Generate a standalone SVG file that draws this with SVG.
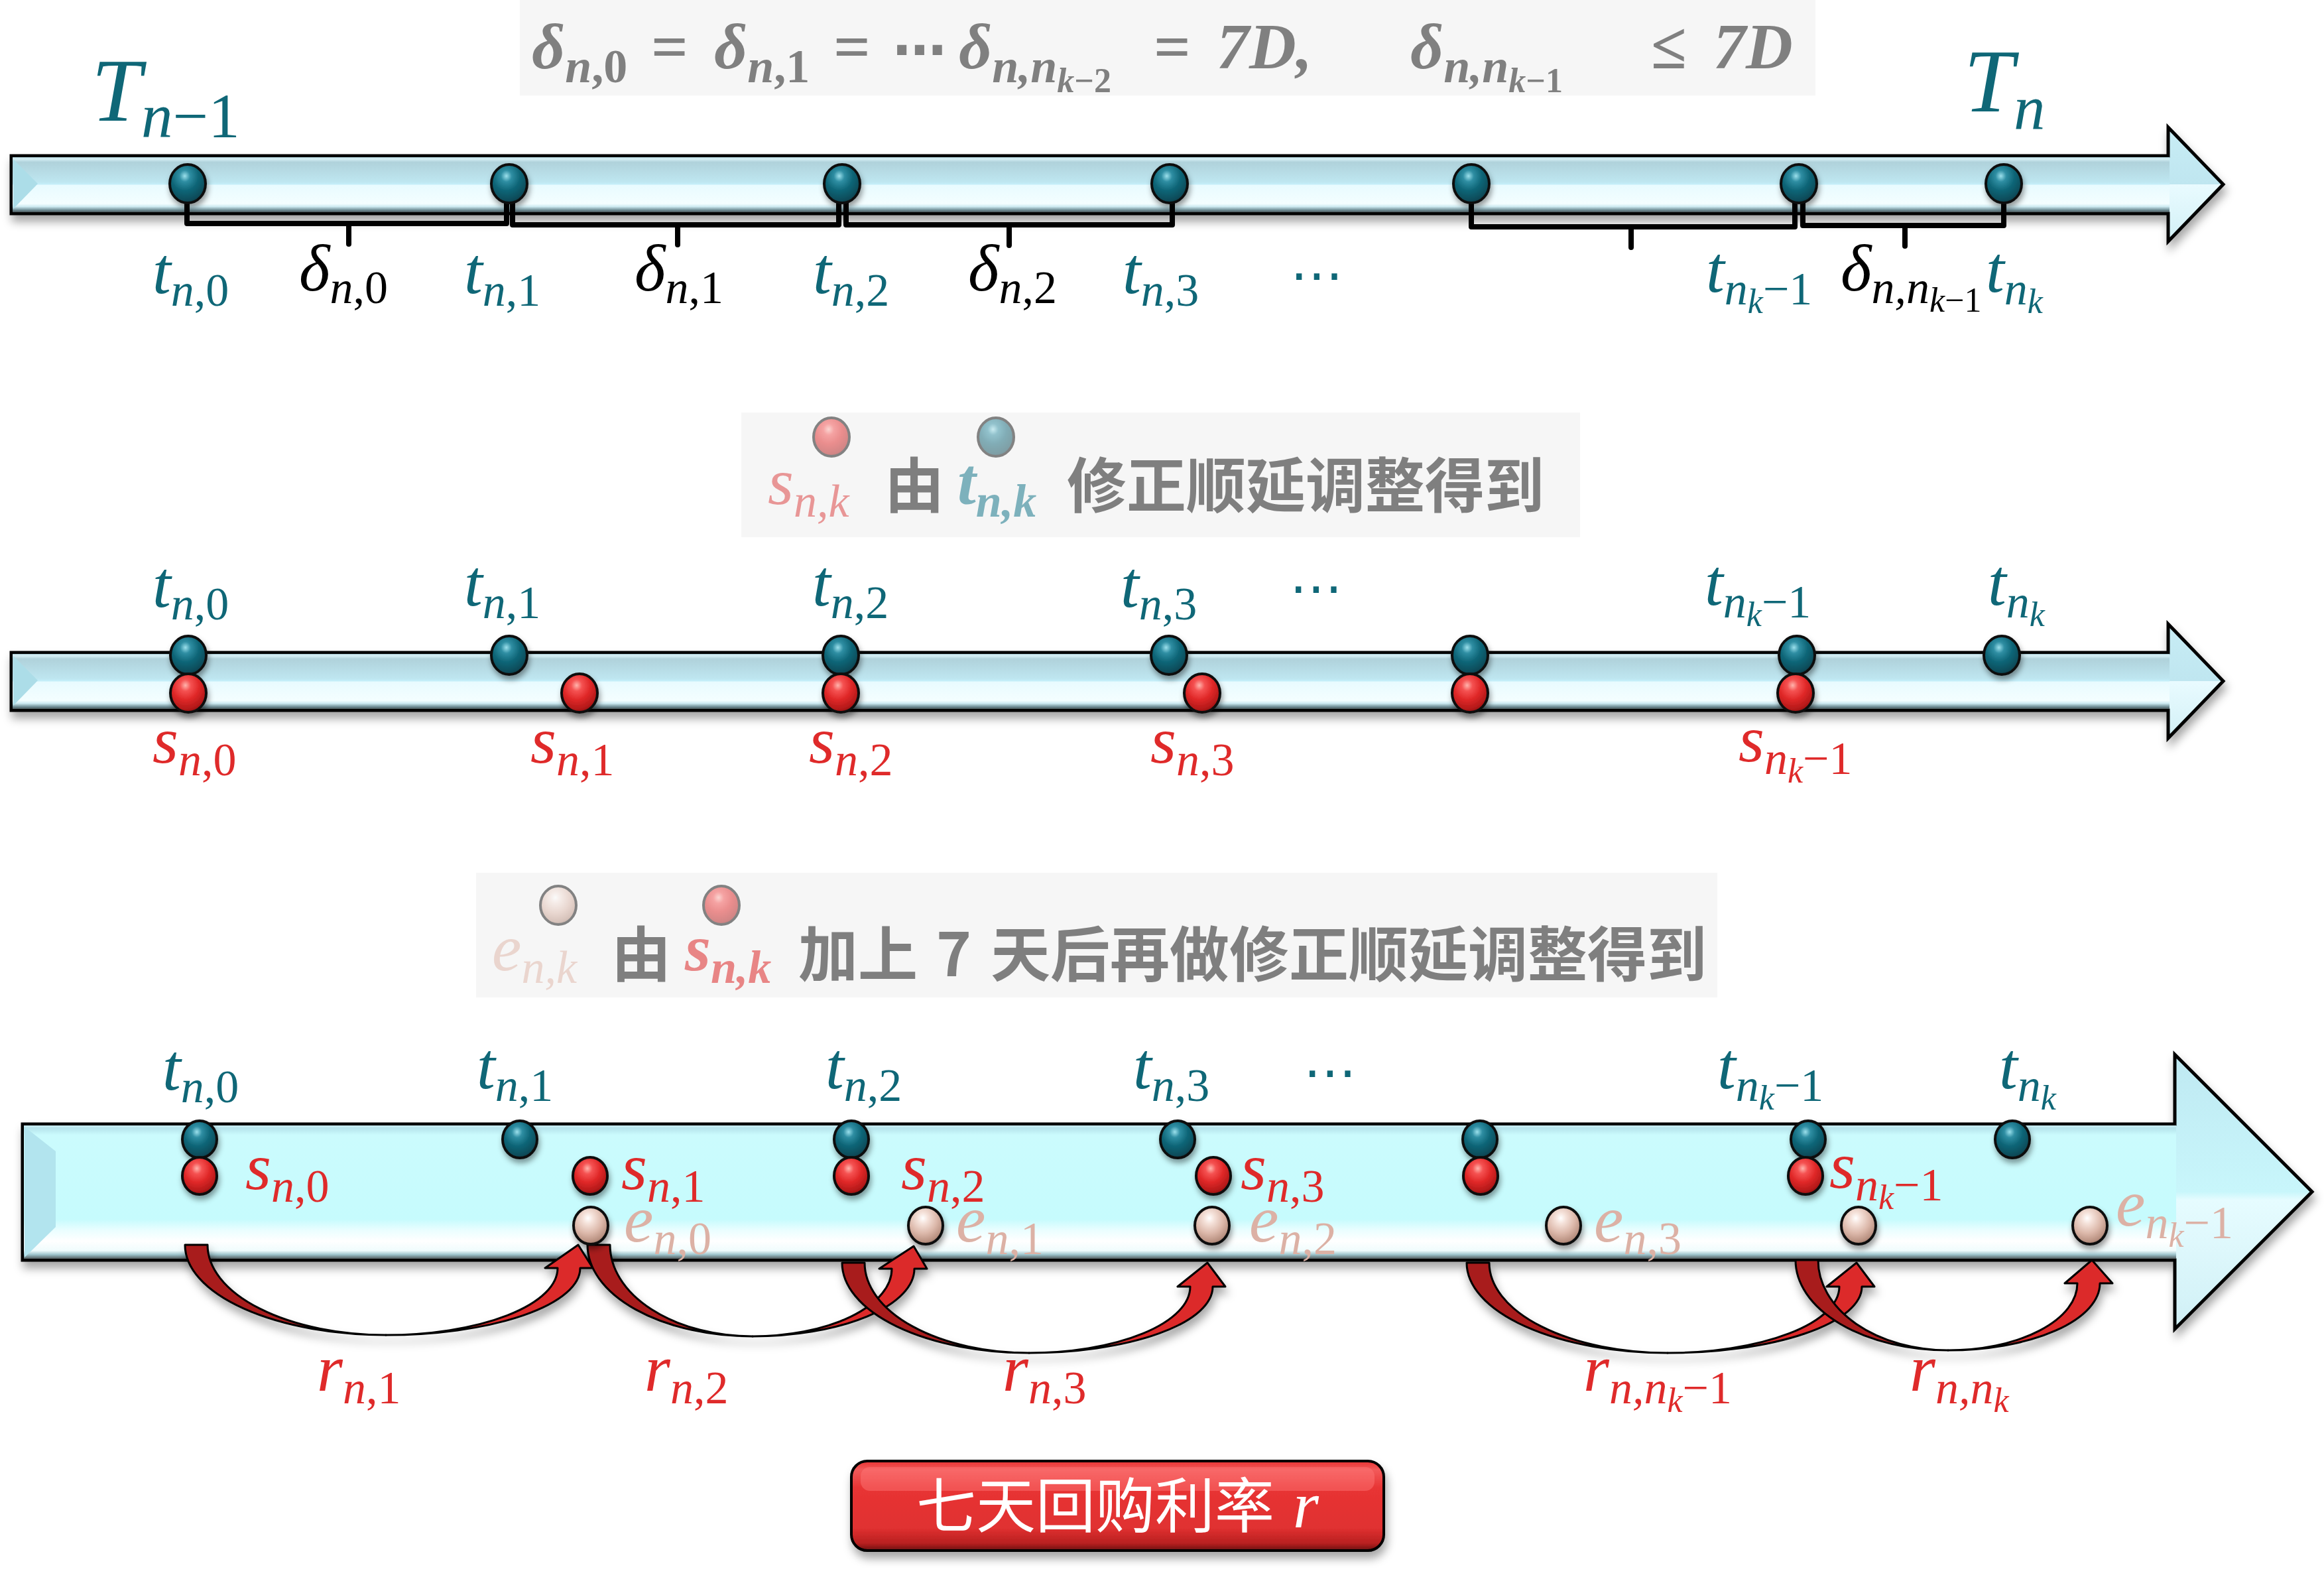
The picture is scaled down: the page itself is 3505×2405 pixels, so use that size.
<svg xmlns="http://www.w3.org/2000/svg" width="3505" height="2405" viewBox="0 0 3505 2405">
<defs>
<style>
.m{font-family:"Liberation Serif","DejaVu Serif",serif;font-style:italic}
.up{font-style:normal}
.L{font-size:100px}
.sb{font-size:70px}
.ss{font-size:52px}
.teal{fill:#0f6777}
.red{fill:#df2a2a}
.beige{fill:#dcb1a5}
.blk{fill:#000}
.gray{fill:#808080}
.cjk{font-family:"Noto Sans CJK SC",sans-serif;font-size:90px;fill:#7f7f7f;font-weight:bold}
.dots{font-family:"DejaVu Sans",sans-serif;font-size:80px;font-style:normal}
.bt{fill:url(#gT);stroke:#111;stroke-width:4}
.br{fill:url(#gR);stroke:#111;stroke-width:4}
.be{fill:url(#gE);stroke:#111;stroke-width:4}
.ad{fill:#a81f1f;stroke:#000;stroke-width:3;stroke-linejoin:round}
.al{fill:#dc2a2a;stroke:#000;stroke-width:3;stroke-linejoin:round}
.barO{stroke:#000;stroke-width:5;stroke-linejoin:miter}
</style>
<radialGradient id="gT" cx="0.42" cy="0.3" r="0.75">
<stop offset="0" stop-color="#9be0ec"/><stop offset="0.2" stop-color="#2f8ea3"/><stop offset="0.5" stop-color="#0f6678"/><stop offset="0.85" stop-color="#0a4b59"/><stop offset="1" stop-color="#05303a"/>
</radialGradient>
<radialGradient id="gR" cx="0.42" cy="0.3" r="0.75">
<stop offset="0" stop-color="#ffb4ac"/><stop offset="0.2" stop-color="#f55252"/><stop offset="0.5" stop-color="#e02828"/><stop offset="0.85" stop-color="#b01818"/><stop offset="1" stop-color="#6a0c0c"/>
</radialGradient>
<radialGradient id="gE" cx="0.42" cy="0.3" r="0.75">
<stop offset="0" stop-color="#ffffff"/><stop offset="0.2" stop-color="#f5e2da"/><stop offset="0.55" stop-color="#dcb8aa"/><stop offset="0.85" stop-color="#b89080"/><stop offset="1" stop-color="#7a5a50"/>
</radialGradient>
<linearGradient id="gHead1" x1="0" y1="0" x2="0" y2="1">
<stop offset="0" stop-color="#c8edf5"/><stop offset="0.5" stop-color="#bfe6f0"/><stop offset="0.5" stop-color="#e9fbff"/><stop offset="1" stop-color="#d2f0f6"/>
</linearGradient>
<linearGradient id="gShaft1" gradientUnits="userSpaceOnUse" x1="0" y1="235" x2="0" y2="322">
<stop offset="0" stop-color="#7fa9b3"/><stop offset="0.05" stop-color="#d8f1f7"/><stop offset="0.11" stop-color="#b0d2db"/><stop offset="0.45" stop-color="#bee6f0"/><stop offset="0.49" stop-color="#c4eef9"/><stop offset="0.51" stop-color="#e8fbff"/><stop offset="0.83" stop-color="#f4feff"/><stop offset="0.88" stop-color="#cdeaf1"/><stop offset="0.94" stop-color="#6e8c94"/><stop offset="1" stop-color="#333333"/>
</linearGradient>
<linearGradient id="gHead3" x1="0" y1="0" x2="0" y2="1">
<stop offset="0" stop-color="#bfe9f2"/><stop offset="0.5" stop-color="#c8f6fb"/><stop offset="0.53" stop-color="#e6fcff"/><stop offset="1" stop-color="#d0f0f6"/>
</linearGradient>
<linearGradient id="gShaft3" gradientUnits="userSpaceOnUse" x1="0" y1="1695" x2="0" y2="1900">
<stop offset="0" stop-color="#d8f4f8"/><stop offset="0.03" stop-color="#b6e4ec"/><stop offset="0.08" stop-color="#cbfbfd"/><stop offset="0.7" stop-color="#c6fbfd"/><stop offset="0.78" stop-color="#eafeff"/><stop offset="0.86" stop-color="#ffffff"/><stop offset="0.93" stop-color="#f0fcfd"/><stop offset="0.96" stop-color="#9cc3cb"/><stop offset="1" stop-color="#3c3c3c"/>
</linearGradient>
<linearGradient id="gBtn" x1="0" y1="0" x2="0" y2="1">
<stop offset="0" stop-color="#e83333"/><stop offset="0.1" stop-color="#f25a5a"/><stop offset="0.3" stop-color="#e83434"/><stop offset="0.75" stop-color="#e03030"/><stop offset="0.92" stop-color="#b82020"/><stop offset="1" stop-color="#6a1010"/>
</linearGradient>
<filter id="sh" x="-5%" y="-20%" width="110%" height="160%">
<feDropShadow dx="3" dy="10" stdDeviation="7" flood-color="#000" flood-opacity="0.35"/>
</filter>
<filter id="bsh" x="-10%" y="-50%" width="120%" height="220%">
<feDropShadow dx="2" dy="6" stdDeviation="4" flood-color="#000" flood-opacity="0.4"/>
</filter>
</defs>
<rect width="3505" height="2405" fill="#fff"/>

<!-- top formula box -->
<g id="formula">
<rect x="784" y="0" width="1954" height="144" fill="#f6f6f6"/>
<text class="m gray" font-size="98" font-weight="bold">
<tspan x="802" y="103">δ</tspan><tspan y="124" font-size="72">n<tspan class="up">,0</tspan></tspan>
<tspan x="982" y="103" class="up">=</tspan>
<tspan x="1077" y="103">δ</tspan><tspan y="124" font-size="72">n<tspan class="up">,1</tspan></tspan>
<tspan x="1257" y="103" class="up">=</tspan>
<tspan x="1347" y="103" class="dots" font-size="80">⋯</tspan>
<tspan x="1446" y="103">δ</tspan><tspan y="124" font-size="72">n,n</tspan><tspan y="139" font-size="52">k<tspan class="up">−2</tspan></tspan>
<tspan x="1740" y="103" class="up">=</tspan>
<tspan x="1835" y="103">7D,</tspan>
<tspan x="2127" y="103">δ</tspan><tspan y="124" font-size="72">n,n</tspan><tspan y="139" font-size="52">k<tspan class="up">−1</tspan></tspan>
<tspan x="2490" y="103" class="up">≤</tspan>
<tspan x="2584" y="103">7D</tspan>
</text>
</g>

<g id="T-labels">
<text class="m teal" font-size="135" x="138" y="182">T<tspan font-size="95" dy="25">n<tspan class="up">−1</tspan></tspan></text>
<text class="m teal" font-size="135" x="2962" y="168">T<tspan font-size="95" dy="27">n</tspan></text>
</g>

<!-- bar 1 -->
<g id="bar1" filter="url(#sh)">
<path class="barO" fill="url(#gHead1)" d="M17,235 H3270 V192 L3353,278 L3270,364 V322 H17 Z"/>
<rect x="19" y="237" width="3253" height="83" fill="url(#gShaft1)"/>
<polygon points="20,240 57,277 20,315" fill="#acdde8"/>
</g>

<g id="brackets" fill="none" stroke="#000" stroke-width="8" stroke-linejoin="round" stroke-linecap="round">
<path d="M282,306 V337 H764 V306 M526,337 V368"/>
<path d="M773,306 V339 H1265 V306 M1022,339 V369"/>
<path d="M1276,306 V339 H1768 V306 M1522,339 V370"/>
<path d="M2219,306 V342 H2707 V306 M2460,342 V373"/>
<path d="M2719,306 V340 H3022 V306 M2873,340 V371"/>
</g>

<g id="balls1" filter="url(#bsh)">
<ellipse class="bt" cx="283" cy="277" rx="27" ry="29"/>
<ellipse class="bt" cx="768" cy="277" rx="27" ry="29"/>
<ellipse class="bt" cx="1270" cy="277" rx="27" ry="29"/>
<ellipse class="bt" cx="1764" cy="277" rx="27" ry="29"/>
<ellipse class="bt" cx="2219" cy="277" rx="27" ry="29"/>
<ellipse class="bt" cx="2713" cy="277" rx="27" ry="29"/>
<ellipse class="bt" cx="3022" cy="277" rx="27" ry="29"/>
</g>

<g id="labels1">
<text class="m L teal" x="230" y="442">t<tspan class="sb" dy="19">n<tspan class="up">,0</tspan></tspan></text>
<text class="m L blk" x="451" y="438">δ<tspan class="sb" dy="19">n<tspan class="up">,0</tspan></tspan></text>
<text class="m L teal" x="700" y="442">t<tspan class="sb" dy="19">n<tspan class="up">,1</tspan></tspan></text>
<text class="m L blk" x="957" y="438">δ<tspan class="sb" dy="19">n<tspan class="up">,1</tspan></tspan></text>
<text class="m L teal" x="1226" y="442">t<tspan class="sb" dy="19">n<tspan class="up">,2</tspan></tspan></text>
<text class="m L blk" x="1460" y="438">δ<tspan class="sb" dy="19">n<tspan class="up">,2</tspan></tspan></text>
<text class="m L teal" x="1693" y="442">t<tspan class="sb" dy="19">n<tspan class="up">,3</tspan></tspan></text>
<text class="dots teal" x="1946" y="442">⋯</text>
<text class="m L teal" x="2573" y="440">t<tspan class="sb" dy="19">n</tspan><tspan class="ss" dy="13">k</tspan><tspan class="sb up" dy="-13">−1</tspan></text>
<text class="m L blk" x="2776" y="438">δ<tspan class="sb" dy="19">n,n</tspan><tspan class="ss" dy="13">k<tspan class="up">−1</tspan></tspan></text>
<text class="m L teal" x="2995" y="440">t<tspan class="sb" dy="19">n</tspan><tspan class="ss" dy="13">k</tspan></text>
</g>

<!-- legend 2 -->
<g id="legend2">
<rect x="1118" y="622" width="1265" height="188" fill="#f6f6f6"/>
<g opacity="0.5"><ellipse class="br" cx="1254" cy="659" rx="27" ry="29"/><ellipse class="bt" cx="1502" cy="659" rx="27" ry="29"/></g>
<text class="m L" fill="#e89696" x="1158" y="760">s<tspan class="sb" dy="19">n,k</tspan></text>
<text class="cjk" x="1334" y="765">由</text>
<text class="m L" fill="#7db1bc" font-weight="bold" x="1444" y="760">t<tspan class="sb" dy="19">n,k</tspan></text>
<text class="cjk" x="1609" y="765">修正顺延调整得到</text>
</g>

<!-- bar 2 -->
<g id="bar2" transform="translate(0,749)" filter="url(#sh)">
<path class="barO" fill="url(#gHead1)" d="M17,235 H3270 V192 L3353,278 L3270,364 V322 H17 Z"/>
<rect x="19" y="237" width="3253" height="83" fill="url(#gShaft1)"/>
<polygon points="20,240 57,277 20,315" fill="#acdde8"/>
</g>

<g id="balls2" filter="url(#bsh)">
<ellipse class="bt" cx="284" cy="988" rx="27" ry="29"/>
<ellipse class="br" cx="284" cy="1045" rx="27" ry="29"/>
<ellipse class="bt" cx="768" cy="988" rx="27" ry="29"/>
<ellipse class="br" cx="874" cy="1045" rx="27" ry="29"/>
<ellipse class="bt" cx="1268" cy="988" rx="27" ry="29"/>
<ellipse class="br" cx="1268" cy="1045" rx="27" ry="29"/>
<ellipse class="bt" cx="1763" cy="988" rx="27" ry="29"/>
<ellipse class="br" cx="1813" cy="1045" rx="27" ry="29"/>
<ellipse class="bt" cx="2217" cy="988" rx="27" ry="29"/>
<ellipse class="br" cx="2217" cy="1045" rx="27" ry="29"/>
<ellipse class="bt" cx="2710" cy="988" rx="27" ry="29"/>
<ellipse class="br" cx="2708" cy="1045" rx="27" ry="29"/>
<ellipse class="bt" cx="3019" cy="988" rx="27" ry="29"/>
</g>

<g id="labels2">
<text class="m L teal" x="230" y="915">t<tspan class="sb" dy="19">n<tspan class="up">,0</tspan></tspan></text>
<text class="m L teal" x="700" y="913">t<tspan class="sb" dy="19">n<tspan class="up">,1</tspan></tspan></text>
<text class="m L teal" x="1225" y="913">t<tspan class="sb" dy="19">n<tspan class="up">,2</tspan></tspan></text>
<text class="m L teal" x="1690" y="915">t<tspan class="sb" dy="19">n<tspan class="up">,3</tspan></tspan></text>
<text class="dots teal" x="1945" y="914">⋯</text>
<text class="m L teal" x="2571" y="912">t<tspan class="sb" dy="19">n</tspan><tspan class="ss" dy="13">k</tspan><tspan class="sb up" dy="-13">−1</tspan></text>
<text class="m L teal" x="2998" y="912">t<tspan class="sb" dy="19">n</tspan><tspan class="ss" dy="13">k</tspan></text>
<text class="m L red" x="230" y="1150">s<tspan class="sb" dy="19">n<tspan class="up">,0</tspan></tspan></text>
<text class="m L red" x="800" y="1150">s<tspan class="sb" dy="19">n<tspan class="up">,1</tspan></tspan></text>
<text class="m L red" x="1220" y="1150">s<tspan class="sb" dy="19">n<tspan class="up">,2</tspan></tspan></text>
<text class="m L red" x="1735" y="1150">s<tspan class="sb" dy="19">n<tspan class="up">,3</tspan></tspan></text>
<text class="m L red" x="2622" y="1148">s<tspan class="sb" dy="19">n</tspan><tspan class="ss" dy="13">k</tspan><tspan class="sb up" dy="-13">−1</tspan></text>
</g>

<!-- legend 3 -->
<g id="legend3">
<rect x="718" y="1316" width="1872" height="188" fill="#f6f6f6"/>
<g opacity="0.5"><ellipse class="be" cx="842" cy="1365" rx="27" ry="29"/><ellipse class="br" cx="1088" cy="1365" rx="27" ry="29"/></g>
<text class="m L" fill="#ead5ce" x="742" y="1463">e<tspan class="sb" dy="19">n,k</tspan></text>
<text class="cjk" x="922" y="1472">由</text>
<text class="m L" fill="#e88585" font-weight="bold" x="1033" y="1463">s<tspan class="sb" dy="19">n,k</tspan></text>
<text class="cjk" y="1472"><tspan x="1204">加上</tspan><tspan x="1412">7</tspan><tspan x="1494">天后再做修正顺延调整得到</tspan></text>
</g>

<!-- bar 3 -->
<g id="bar3" filter="url(#sh)">
<path class="barO" fill="url(#gHead3)" d="M34,1695 H3280 V1590 L3487,1797 L3280,2004 V1900 H34 Z"/>
<rect x="36" y="1697" width="3246" height="201" fill="url(#gShaft3)"/>
<polygon points="37,1699 84,1736 84,1850 37,1896" fill="#b2e4ee"/>
</g>

<g id="connectors" filter="url(#sh)">
<g id="r1">
<path class="al" d="M582,2013 A293,101 0 0 0 875,1912 L894,1912 L872,1877 L822,1912 L841,1912 A259,101 0 0 1 582,2013 Z"/>
<path class="ad" d="M279,1877 A303,136 0 0 0 582,2013 A269,136 0 0 1 313,1877 Z"/>
</g>
<g id="r2">
<path class="al" d="M1135,2015 A244,102 0 0 0 1379,1913 L1398,1913 L1378,1879 L1326,1913 L1345,1913 A210,102 0 0 1 1135,2015 Z"/>
<path class="ad" d="M886,1877 A249,138 0 0 0 1135,2015 A215,138 0 0 1 920,1877 Z"/>
</g>
<g id="r3">
<path class="al" d="M1552,2040 A277,100 0 0 0 1829,1940 L1848,1940 L1821,1904 L1776,1940 L1795,1940 A243,100 0 0 1 1552,2040 Z"/>
<path class="ad" d="M1270,1904 A282,136 0 0 0 1552,2040 A248,136 0 0 1 1304,1904 Z"/>
</g>
<g id="r4">
<path class="al" d="M2515,2040 A293,100 0 0 0 2808,1940 L2827,1940 L2800,1904 L2755,1940 L2774,1940 A259,100 0 0 1 2515,2040 Z"/>
<path class="ad" d="M2212,1904 A303,136 0 0 0 2515,2040 A269,136 0 0 1 2246,1904 Z"/>
</g>
<g id="r5">
<path class="al" d="M2938,2036 A229,101 0 0 0 3167,1935 L3186,1935 L3155,1900 L3114,1935 L3133,1935 A195,101 0 0 1 2938,2036 Z"/>
<path class="ad" d="M2708,1900 A230,136 0 0 0 2938,2036 A196,136 0 0 1 2742,1900 Z"/>
</g>
</g>

<g id="balls3" filter="url(#bsh)">
<ellipse class="bt" cx="301" cy="1718" rx="26" ry="28"/>
<ellipse class="br" cx="301" cy="1773" rx="26" ry="28"/>
<ellipse class="bt" cx="784" cy="1718" rx="26" ry="28"/>
<ellipse class="br" cx="890" cy="1773" rx="26" ry="28"/>
<ellipse class="be" cx="891" cy="1848" rx="26" ry="28"/>
<ellipse class="bt" cx="1284" cy="1718" rx="26" ry="28"/>
<ellipse class="br" cx="1284" cy="1773" rx="26" ry="28"/>
<ellipse class="be" cx="1396" cy="1848" rx="26" ry="28"/>
<ellipse class="bt" cx="1776" cy="1718" rx="26" ry="28"/>
<ellipse class="br" cx="1830" cy="1773" rx="26" ry="28"/>
<ellipse class="be" cx="1828" cy="1848" rx="26" ry="28"/>
<ellipse class="bt" cx="2232" cy="1718" rx="26" ry="28"/>
<ellipse class="br" cx="2233" cy="1773" rx="26" ry="28"/>
<ellipse class="be" cx="2358" cy="1848" rx="26" ry="28"/>
<ellipse class="bt" cx="2727" cy="1718" rx="26" ry="28"/>
<ellipse class="br" cx="2723" cy="1773" rx="26" ry="28"/>
<ellipse class="be" cx="2803" cy="1848" rx="26" ry="28"/>
<ellipse class="bt" cx="3035" cy="1718" rx="26" ry="28"/>
<ellipse class="be" cx="3152" cy="1848" rx="26" ry="28"/>
</g>

<g id="labels3">
<text class="m L teal" x="245" y="1643">t<tspan class="sb" dy="19">n<tspan class="up">,0</tspan></tspan></text>
<text class="m L teal" x="719" y="1641">t<tspan class="sb" dy="19">n<tspan class="up">,1</tspan></tspan></text>
<text class="m L teal" x="1245" y="1641">t<tspan class="sb" dy="19">n<tspan class="up">,2</tspan></tspan></text>
<text class="m L teal" x="1709" y="1641">t<tspan class="sb" dy="19">n<tspan class="up">,3</tspan></tspan></text>
<text class="dots teal" x="1966" y="1644">⋯</text>
<text class="m L teal" x="2590" y="1641">t<tspan class="sb" dy="19">n</tspan><tspan class="ss" dy="13">k</tspan><tspan class="sb up" dy="-13">−1</tspan></text>
<text class="m L teal" x="3015" y="1641">t<tspan class="sb" dy="19">n</tspan><tspan class="ss" dy="13">k</tspan></text>
<text class="m L red" x="370" y="1793">s<tspan class="sb" dy="19">n<tspan class="up">,0</tspan></tspan></text>
<text class="m L red" x="937" y="1793">s<tspan class="sb" dy="19">n<tspan class="up">,1</tspan></tspan></text>
<text class="m L red" x="1359" y="1793">s<tspan class="sb" dy="19">n<tspan class="up">,2</tspan></tspan></text>
<text class="m L red" x="1871" y="1793">s<tspan class="sb" dy="19">n<tspan class="up">,3</tspan></tspan></text>
<text class="m L red" x="2759" y="1791">s<tspan class="sb" dy="19">n</tspan><tspan class="ss" dy="13">k</tspan><tspan class="sb up" dy="-13">−1</tspan></text>
<text class="m L beige" x="941" y="1872">e<tspan class="sb" dy="19">n<tspan class="up">,0</tspan></tspan></text>
<text class="m L beige" x="1442" y="1872">e<tspan class="sb" dy="19">n<tspan class="up">,1</tspan></tspan></text>
<text class="m L beige" x="1884" y="1872">e<tspan class="sb" dy="19">n<tspan class="up">,2</tspan></tspan></text>
<text class="m L beige" x="2404" y="1872">e<tspan class="sb" dy="19">n<tspan class="up">,3</tspan></tspan></text>
<text class="m L beige" x="3191" y="1848">e<tspan class="sb" dy="19">n</tspan><tspan class="ss" dy="13">k</tspan><tspan class="sb up" dy="-13">−1</tspan></text>
<text class="m L red" x="478" y="2097">r<tspan class="sb" dy="19">n<tspan class="up">,1</tspan></tspan></text>
<text class="m L red" x="972" y="2097">r<tspan class="sb" dy="19">n<tspan class="up">,2</tspan></tspan></text>
<text class="m L red" x="1512" y="2097">r<tspan class="sb" dy="19">n<tspan class="up">,3</tspan></tspan></text>
<text class="m L red" x="2388" y="2097">r<tspan class="sb" dy="19">n,n</tspan><tspan class="ss" dy="13">k</tspan><tspan class="sb up" dy="-13">−1</tspan></text>
<text class="m L red" x="2880" y="2097">r<tspan class="sb" dy="19">n,n</tspan><tspan class="ss" dy="13">k</tspan></text>
</g>

<g id="button" filter="url(#sh)">
<rect x="1284" y="2203" width="803" height="135" rx="24" fill="url(#gBtn)" stroke="#000" stroke-width="4"/>
<rect x="1298" y="2212" width="775" height="36" rx="14" fill="#ff7a7a" opacity="0.45"/>
<text x="1382" y="2303" font-family="Noto Sans CJK SC, sans-serif" font-size="90" fill="#fff">七天回购利率<tspan x="1950" class="m" font-size="100">r</tspan></text>
</g>
</svg>
